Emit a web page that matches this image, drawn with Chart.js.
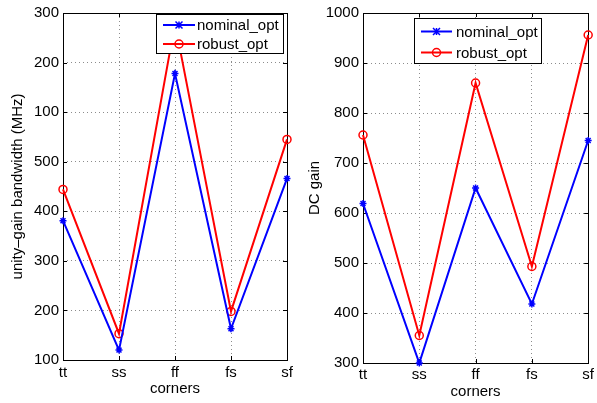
<!DOCTYPE html>
<html>
<head>
<meta charset="utf-8">
<script src="https://cdn.jsdelivr.net/npm/chart.js@4.4.0/dist/chart.umd.min.js"></script>
<style>
  body { margin: 0; background: #fff; }
  #wrap { position: relative; width: 597px; height: 403px; overflow: hidden; }
  canvas { position: absolute; top: 0; }
</style>
</head>
<body>
<div id="wrap">
  <canvas id="bwChart" width="300" height="403" style="left:0"></canvas>
  <canvas id="gainChart" width="297" height="403" style="left:300px"></canvas>
</div>
<script>
// corners on the x axis
const corners = ['tt', 'ss', 'ff', 'fs', 'sf'];

// left panel: unity-gain bandwidth (axis runs 100..800, labels as printed)
const bwNominal = [381, 120, 678, 163, 466];
const bwRobust = [444, 153, 779, 198, 545];
const bwTickLabels = ['100', '200', '300', '400', '500', '100', '200', '300'];

// right panel: DC gain
const gainNominal = [619, 300, 650, 418, 745];
const gainRobust = [756, 355, 860, 493, 956];
const gainTickLabels = ['300', '400', '500', '600', '700', '800', '900', '1000'];

const FONT = 'Liberation Sans, Arial, Helvetica, sans-serif';
const BLUE = '#0000ff';
const RED = '#ff0000';

// frame + inward tick marks, like a matlab axes box
const framePlugin = {
    id: 'frame',
    beforeDatasetsDraw(chart) {
        const { ctx, chartArea: a, scales } = chart;
        ctx.save();
        ctx.strokeStyle = '#000';
        ctx.lineWidth = 1;
        ctx.strokeRect(Math.round(a.left) + 0.5, Math.round(a.top) + 0.5, Math.round(a.right - a.left), Math.round(a.bottom - a.top));
        ctx.beginPath();
        scales.x.ticks.forEach((t, i) => {
            const px = Math.round(scales.x.getPixelForTick(i)) + 0.5;
            ctx.moveTo(px, a.bottom); ctx.lineTo(px, a.bottom - 4);
            ctx.moveTo(px, a.top); ctx.lineTo(px, a.top + 4);
        });
        scales.y.ticks.forEach((t, i) => {
            const py = Math.round(scales.y.getPixelForTick(i)) + 0.5;
            ctx.moveTo(a.left, py); ctx.lineTo(a.left + 4, py);
            ctx.moveTo(a.right, py); ctx.lineTo(a.right - 4, py);
        });
        ctx.stroke();
        ctx.restore();
    }
};

// legend box drawn inside the plot, opaque over the lines
const boxLegendPlugin = {
    id: 'boxLegend',
    afterDatasetsDraw(chart, args, opts) {
        const { ctx } = chart;
        const b = opts.box;
        ctx.save();
        ctx.fillStyle = '#fff';
        ctx.fillRect(b.x, b.y, b.w, b.h);
        ctx.strokeStyle = '#000';
        ctx.lineWidth = 1;
        ctx.strokeRect(b.x + 0.5, b.y + 0.5, b.w, b.h);
        chart.data.datasets.forEach((ds, i) => {
            const y = opts.rows[i];
            ctx.strokeStyle = ds.borderColor;
            ctx.lineWidth = 2;
            ctx.beginPath();
            ctx.moveTo(opts.lineX[0], y);
            ctx.lineTo(opts.lineX[1], y);
            ctx.stroke();
            const mx = (opts.lineX[0] + opts.lineX[1]) / 2;
            ctx.lineWidth = 1.5;
            ctx.beginPath();
            if (ds.pointStyle === 'circle') {
                ctx.arc(mx, y, ds.pointRadius, 0, Math.PI * 2);
            } else {
                const r = ds.pointRadius;
                ctx.moveTo(mx - r, y - r); ctx.lineTo(mx + r, y + r);
                ctx.moveTo(mx - r, y + r); ctx.lineTo(mx + r, y - r);
                ctx.moveTo(mx, y - r); ctx.lineTo(mx, y + r);
            }
            ctx.stroke();
            ctx.fillStyle = '#000';
            ctx.font = '15px ' + FONT;
            ctx.textBaseline = 'middle';
            ctx.textAlign = 'left';
            ctx.fillText(ds.label, opts.textX, y + 1);
        });
        ctx.restore();
    }
};

function makeChart(id, nominal, robust, yMin, yMax, tickLabels, yTitle, geom) {
    const gridDots = { color: '#8c8c8c', lineWidth: 1, drawTicks: false };
    const dotBorder = { display: false, dash: [1, 3] };
    return new Chart(document.getElementById(id), {
        type: 'line',
        data: {
            labels: corners,
            datasets: [
                {
                    label: 'nominal_opt', data: nominal,
                    borderColor: BLUE, backgroundColor: BLUE, borderWidth: 2,
                    pointStyle: 'star', pointRadius: 3.5, pointBorderWidth: 1.5,
                    pointBorderColor: BLUE, tension: 0, clip: false
                },
                {
                    label: 'robust_opt', data: robust,
                    borderColor: RED, backgroundColor: 'rgba(0,0,0,0)', borderWidth: 2,
                    pointStyle: 'circle', pointRadius: 4, pointBorderWidth: 1.5,
                    pointBorderColor: RED, pointBackgroundColor: 'rgba(0,0,0,0)',
                    tension: 0, clip: false
                }
            ]
        },
        options: {
            responsive: false,
            animation: false,
            events: [],
            layout: { padding: geom.padding },
            plugins: {
                legend: { display: false },
                tooltip: { enabled: false },
                boxLegend: geom.legend
            },
            scales: {
                x: {
                    type: 'category',
                    offset: false,
                    grid: gridDots,
                    border: dotBorder,
                    ticks: { color: '#000', font: { family: FONT, size: 15, lineHeight: 1.2 }, padding: geom.xTickPad, maxRotation: 0, autoSkip: false },
                    title: { display: true, text: 'corners', color: '#000', font: { family: FONT, size: 15, lineHeight: 1.2 }, padding: { top: 0, bottom: geom.xTitlePad } },
                    afterFit(scale) { scale.height = geom.xHeight; }
                },
                y: {
                    min: yMin, max: yMax,
                    grid: gridDots,
                    border: dotBorder,
                    ticks: {
                        stepSize: 100, color: '#000', padding: 4,
                        font: { family: FONT, size: 15 },
                        callback: (v, i) => tickLabels[i]
                    },
                    title: { display: true, text: yTitle, color: '#000', font: { family: FONT, size: 15, lineHeight: 1.2 }, padding: { top: geom.yTitlePad, bottom: 0 } },
                    afterFit(scale) { scale.width = 63; }
                }
            }
        },
        plugins: [framePlugin, boxLegendPlugin]
    });
}

makeChart('bwChart', bwNominal, bwRobust, 100, 800, bwTickLabels, 'unity–gain bandwidth (MHz)', {
    padding: { left: 0, top: 9, right: 13, bottom: 0 },
    xHeight: 43, xTickPad: 3.5, xTitlePad: 5, yTitlePad: 9,
    legend: { box: { x: 156, y: 14, w: 127, h: 39 }, rows: [25, 44], lineX: [163, 195], textX: 197 }
});

makeChart('gainChart', gainNominal, gainRobust, 300, 1000, gainTickLabels, 'DC gain', {
    padding: { left: 0, top: 13, right: 5, bottom: 0 },
    xHeight: 40, xTickPad: 3, xTitlePad: 2.5, yTitlePad: 5.5,
    legend: { box: { x: 114, y: 18, w: 127, h: 45 }, rows: [31.5, 52.5], lineX: [121, 152], textX: 156 }
});
</script>
</body>
</html>
